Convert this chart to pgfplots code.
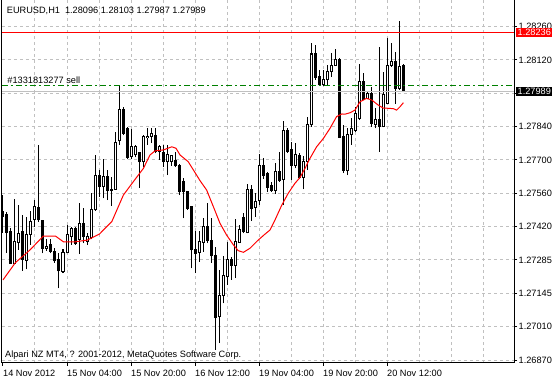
\documentclass[border=0pt]{standalone}
\usepackage{fontspec}
\setmainfont{Liberation Sans}
\usepackage{pgfplots}
\usepackage{pgfplotstable}
\pgfplotsset{compat=1.18}
\definecolor{gridgray}{RGB}{192,192,192}
\definecolor{ordergreen}{RGB}{0,128,0}
\definecolor{mared}{RGB}{255,0,0}

% EURUSD H1 bars: index, open, high, low, close
\pgfplotstableread{
i o h l c
0 1.27488 1.27558 1.27401 1.27470
1 1.27475 1.27488 1.27317 1.27401
2 1.27404 1.27419 1.27270 1.27273
3 1.27273 1.27541 1.27270 1.27365
4 1.27359 1.27516 1.27329 1.27398
5 1.27404 1.27475 1.27242 1.27290
6 1.27284 1.27468 1.27248 1.27395
7 1.27395 1.27493 1.27350 1.27448
8 1.27457 1.27537 1.27426 1.27512
9 1.27505 1.27767 1.27447 1.27454
10 1.27453 1.27454 1.27315 1.27336
11 1.27336 1.27373 1.27326 1.27345
12 1.27351 1.27373 1.27315 1.27322
13 1.27323 1.27336 1.27276 1.27283
14 1.27291 1.27315 1.27169 1.27242
15 1.27240 1.27332 1.27232 1.27320
16 1.27317 1.27433 1.27315 1.27395
17 1.27384 1.27426 1.27350 1.27419
18 1.27419 1.27426 1.27350 1.27354
19 1.27373 1.27523 1.27312 1.27440
20 1.27440 1.27503 1.27357 1.27384
21 1.27365 1.27398 1.27350 1.27383
22 1.27382 1.27565 1.27373 1.27496
23 1.27496 1.27724 1.27493 1.27640
24 1.27640 1.27662 1.27551 1.27593
25 1.27593 1.27708 1.27544 1.27637
26 1.27637 1.27662 1.27537 1.27576
27 1.27582 1.27634 1.27512 1.27576
28 1.27582 1.27822 1.27579 1.27779
29 1.27784 1.28013 1.27767 1.27915
30 1.27915 1.27926 1.27808 1.27815
31 1.27836 1.27840 1.27707 1.27715
32 1.27718 1.27832 1.27707 1.27759
33 1.27725 1.27767 1.27715 1.27759
34 1.27734 1.27739 1.27588 1.27697
35 1.27697 1.27808 1.27674 1.27804
36 1.27796 1.27836 1.27767 1.27801
37 1.27804 1.27836 1.27774 1.27815
38 1.27808 1.27836 1.27732 1.27739
39 1.27739 1.27767 1.27704 1.27759
40 1.27734 1.27767 1.27674 1.27697
41 1.27697 1.27767 1.27641 1.27725
42 1.27697 1.27725 1.27679 1.27721
43 1.27700 1.27739 1.27674 1.27679
44 1.27683 1.27687 1.27558 1.27572
45 1.27614 1.27628 1.27461 1.27572
46 1.27572 1.27575 1.27496 1.27503
47 1.27509 1.27512 1.27252 1.27329
48 1.27329 1.27409 1.27232 1.27315
49 1.27320 1.27409 1.27280 1.27365
50 1.27362 1.27461 1.27322 1.27426
51 1.27426 1.27526 1.27357 1.27367
52 1.27370 1.27461 1.27276 1.27304
53 1.27304 1.27342 1.26912 1.27048
54 1.27051 1.27245 1.26940 1.27141
55 1.27141 1.27304 1.27106 1.27224
56 1.27217 1.27363 1.27183 1.27290
57 1.27290 1.27301 1.27204 1.27266
58 1.27266 1.27457 1.27211 1.27363
59 1.27359 1.27433 1.27357 1.27415
60 1.27465 1.27484 1.27398 1.27405
61 1.27401 1.27604 1.27398 1.27582
62 1.27582 1.27600 1.27451 1.27503
63 1.27507 1.27565 1.27468 1.27530
64 1.27534 1.27729 1.27516 1.27683
65 1.27683 1.27711 1.27624 1.27641
66 1.27646 1.27655 1.27572 1.27590
67 1.27596 1.27614 1.27572 1.27576
68 1.27576 1.27690 1.27562 1.27655
69 1.27655 1.27739 1.27614 1.27618
70 1.27624 1.27868 1.27516 1.27825
71 1.27825 1.27836 1.27734 1.27739
72 1.27746 1.27780 1.27621 1.27683
73 1.27683 1.27776 1.27669 1.27725
74 1.27721 1.27734 1.27624 1.27632
75 1.27632 1.27721 1.27582 1.27697
76 1.27697 1.27885 1.27662 1.27850
77 1.27850 1.28191 1.27843 1.28146
78 1.28146 1.28184 1.28038 1.28047
79 1.28051 1.28079 1.28013 1.28017
80 1.28017 1.28079 1.28013 1.28038
81 1.28038 1.28100 1.28017 1.28072
82 1.28072 1.28149 1.28051 1.28100
83 1.28100 1.28166 1.28096 1.28124
84 1.28124 1.28128 1.27795 1.27799
85 1.27801 1.27850 1.27649 1.27662
86 1.27659 1.27836 1.27641 1.27812
87 1.27812 1.27878 1.27767 1.27836
88 1.27829 1.27926 1.27822 1.27899
89 1.27878 1.28104 1.27871 1.28031
90 1.28031 1.28066 1.27954 1.27957
91 1.27961 1.27989 1.27957 1.27982
92 1.27982 1.28010 1.27843 1.27857
93 1.27854 1.27920 1.27836 1.27871
94 1.27874 1.28174 1.27739 1.27843
95 1.27843 1.28072 1.27840 1.27979
96 1.27940 1.28211 1.27938 1.28100
97 1.28100 1.28191 1.28093 1.28114
98 1.28114 1.28156 1.27938 1.28003
99 1.28003 1.28285 1.27996 1.28095
100 1.28096 1.28103 1.27987 1.27989
}\ohlc

\begin{document}
\begin{tikzpicture}[font=\fontsize{9.2pt}{11pt}\selectfont]
\useasboundingbox (0,0) rectangle (552pt,380pt);
\fill[white] (0,0) rectangle (552pt,380pt);
\begin{axis}[
  at={(2pt,17pt)}, anchor=south west,
  scale only axis, width=512pt, height=363pt,
  xmin=-0.25, xmax=127.75,
  ymin=1.268575, ymax=1.283712,
  axis x line*=bottom, axis y line*=box,
  axis line style={black, line width=1pt},
  xtick={0,16,32,48,64,80,96},
  xticklabels={14 Nov 2012,15 Nov 04:00,15 Nov 20:00,16 Nov 12:00,19 Nov 04:00,19 Nov 20:00,20 Nov 12:00},
  minor xtick={8,16,...,120},
  xminorgrids=true, xmajorgrids=false,
  ytick={1.26870,1.27009,1.27148,1.27287,1.27426,1.27565,1.27704,1.27843,1.27982,1.28121,1.28260},
  yticklabels={1.26870,1.27010,1.27145,1.27285,1.27420,1.27560,1.27700,1.27840,,1.28120,1.28260},
  ymajorgrids=true,
  ytick pos=right, yticklabel pos=right,
  grid style={gridgray, dash pattern=on 3pt off 3pt, line width=1pt},
  minor grid style={gridgray, dash pattern=on 3pt off 3pt, line width=1pt},
  tick align=outside, major tick length=3pt, minor tick length=0pt,
  tick style={black, line width=1pt},
  xticklabel style={anchor=base west, inner sep=0pt, yshift=-11pt},
  yticklabel style={anchor=west, inner sep=0pt, xshift=1.5pt},
]
% wicks
\addplot[draw=none, mark=none, forget plot,
  error bars/.cd, y dir=plus, y explicit, error mark=none,
  error bar style={draw=black, solid, line width=1pt}]
  table[x=i, y=l, y error plus expr={\thisrow{h}-\thisrow{l}}] {\ohlc};
% bodies (outline)
\addplot[draw=none, mark=none, forget plot,
  error bars/.cd, y dir=plus, y explicit, error mark=none,
  error bar style={draw=black, solid, line width=3pt}]
  table[x=i, y expr={min(\thisrow{o},\thisrow{c})-0.0000208},
        y error plus expr={abs(\thisrow{c}-\thisrow{o})+0.0000417}] {\ohlc};
% bull bodies (white inside)
\addplot[draw=none, mark=none, forget plot,
  error bars/.cd, y dir=plus, y explicit, error mark=none,
  error bar style={draw=white, solid, line width=1pt}]
  table[x=i, y expr={\thisrow{o}+0.0000208},
        y error plus expr={max(\thisrow{c}-\thisrow{o}-0.0000417,0)}] {\ohlc};
% moving average
\addplot[mared, line width=1pt, mark=none] coordinates {
(0,1.27204) (3.1,1.27276) (6.75,1.27329) (10.1,1.27387) (13.1,1.27387)
(15.1,1.27363) (18.1,1.27363) (21.1,1.27370) (24.1,1.27395) (25.5,1.27419)
(27.2,1.27447) (30.1,1.27558) (32.6,1.27614) (35.1,1.27669) (36.75,1.27725)
(38,1.27742) (40.1,1.27746) (42.2,1.27759) (43.25,1.27753) (44.25,1.27725)
(46.3,1.27697) (48.4,1.27641) (49.25,1.27618) (50.9,1.27579) (52.6,1.27509)
(54.25,1.27440) (55.9,1.27391) (57.6,1.27350) (58.8,1.27326) (60.1,1.27319)
(61.75,1.27336) (63.8,1.27370) (65.5,1.27395) (66.75,1.27412) (68,1.27454)
(69.7,1.27516) (71.3,1.27565) (73,1.27607) (74.25,1.27631) (75.5,1.27669)
(76.75,1.27711) (78.4,1.27759) (80.1,1.27794) (81.75,1.27836) (83.4,1.27885)
(84.7,1.27896) (85.5,1.27895) (86.75,1.27901) (88,1.27912) (89.25,1.27947)
(90.9,1.27961) (92.2,1.27954) (93.8,1.27933) (95.1,1.27920) (95.9,1.27920)
(97.6,1.27918) (98.4,1.27912) (99.25,1.27926) (100.1,1.27943)
};
% horizontal price lines
\addplot[mared, line width=1pt, mark=none] coordinates {(-0.25,1.28236) (127.75,1.28236)};
\addplot[ordergreen, line width=1pt, mark=none, dash pattern=on 6pt off 3pt on 2pt off 3pt] coordinates {(-0.25,1.28015) (127.75,1.28015)};
\addplot[gridgray, line width=1pt, mark=none] coordinates {(-0.25,1.27989) (127.75,1.27989)};
\coordinate (redp) at (axis cs:127.75,1.28236);
\coordinate (bidp) at (axis cs:127.75,1.27989);
\end{axis}
\node[fill=mared, text=white, anchor=west, inner xsep=1.5pt, inner ysep=0pt, minimum height=9pt, xshift=2pt] at (redp) {1.28236};
\node[fill=black, text=white, anchor=west, inner xsep=1.5pt, inner ysep=0pt, minimum height=9pt, xshift=2pt] at (bidp) {1.27989};
\node[anchor=base west, inner sep=0pt] at (6.7pt,366pt) {EURUSD,H1\hspace{5pt}1.28096 1.28103 1.27987 1.27989};
\node[anchor=base west, inner sep=0pt] at (7.3pt,296.7pt) {\#1331813277 sell};
\node[anchor=base west, inner sep=0pt] at (5pt,22.7pt) {Alpari NZ MT4, ? 2001-2012, MetaQuotes Software Corp.};
\end{tikzpicture}
\end{document}
